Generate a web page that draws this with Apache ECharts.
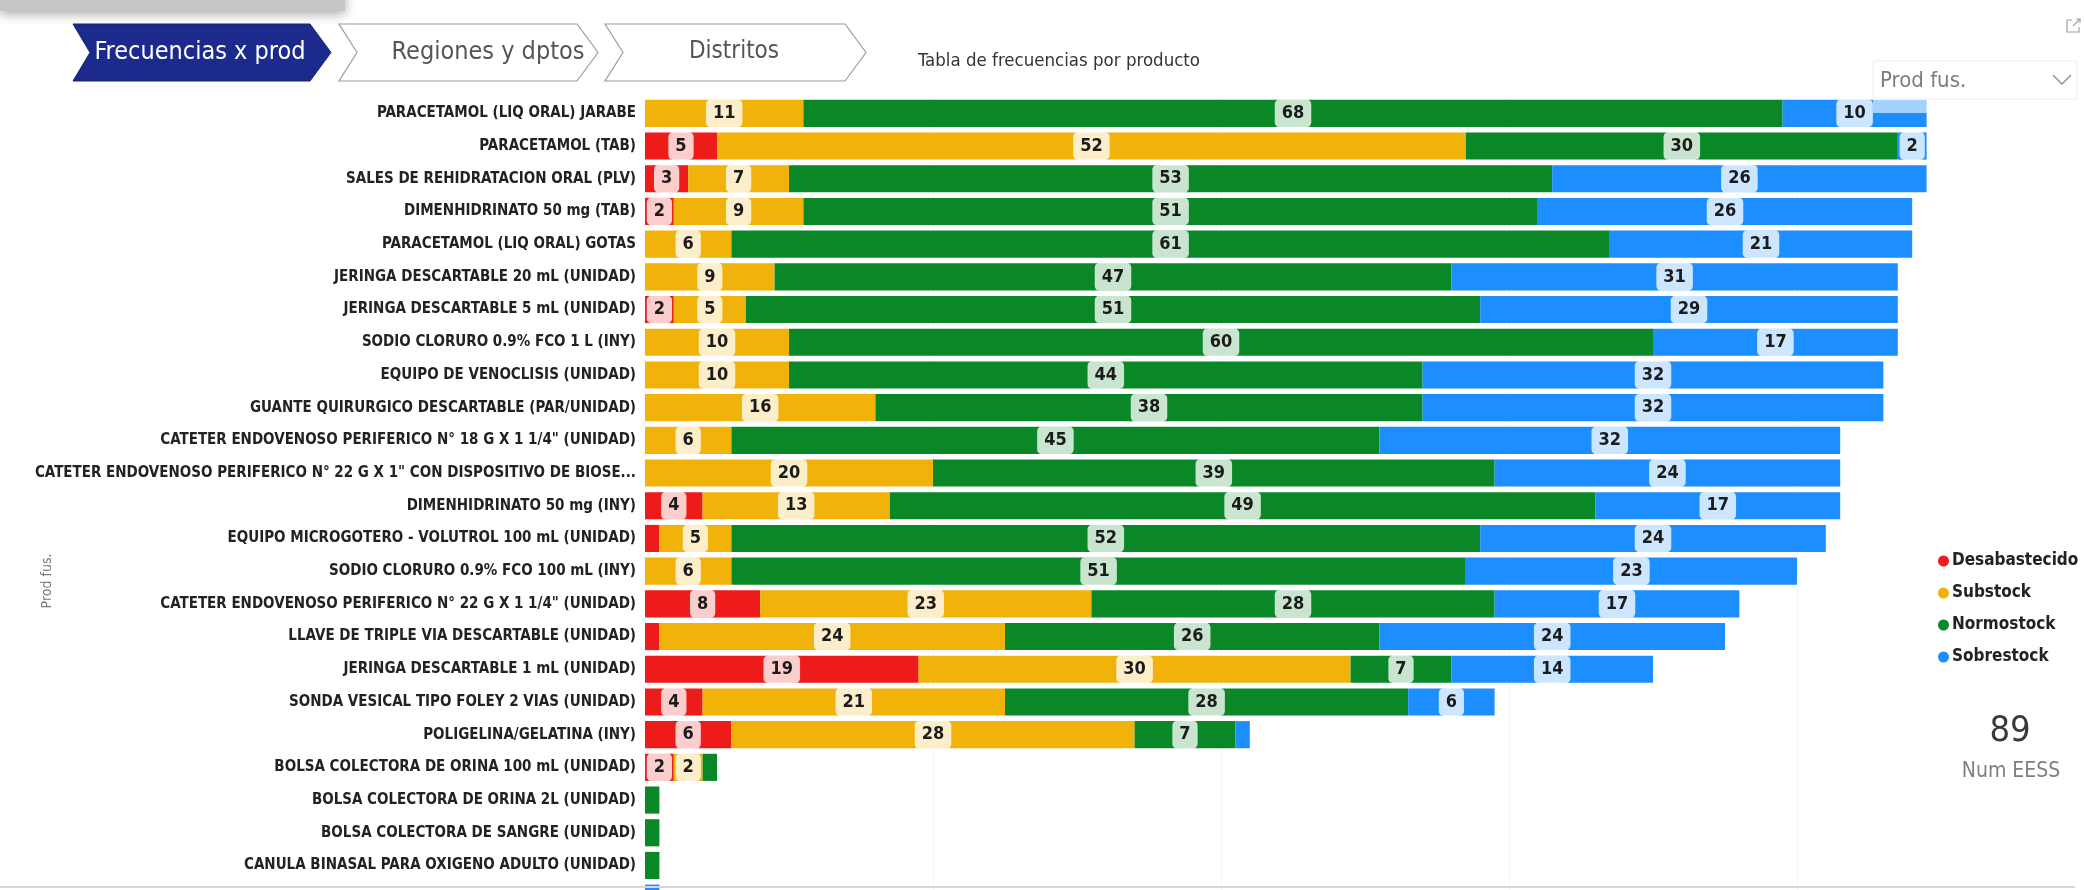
<!DOCTYPE html>
<html>
<head>
<meta charset="utf-8">
<script src="https://cdn.jsdelivr.net/npm/echarts@6/dist/echarts.min.js"></script>
<style>
  html, body { margin: 0; padding: 0; background: #ffffff; }
  #chart { width: 2084px; height: 890px; }
</style>
</head>
<body>
<div id="chart"></div>
<script>
// Product names, top to bottom (last row is cut off by the page edge)
const productos = [
  'PARACETAMOL (LIQ ORAL) JARABE',
  'PARACETAMOL (TAB)',
  'SALES DE REHIDRATACION ORAL (PLV)',
  'DIMENHIDRINATO 50 mg (TAB)',
  'PARACETAMOL (LIQ ORAL) GOTAS',
  'JERINGA DESCARTABLE 20 mL (UNIDAD)',
  'JERINGA DESCARTABLE 5 mL (UNIDAD)',
  'SODIO CLORURO 0.9% FCO 1 L (INY)',
  'EQUIPO DE VENOCLISIS (UNIDAD)',
  'GUANTE QUIRURGICO DESCARTABLE (PAR/UNIDAD)',
  'CATETER ENDOVENOSO PERIFERICO N° 18 G X 1 1/4" (UNIDAD)',
  'CATETER ENDOVENOSO PERIFERICO N° 22 G X 1" CON DISPOSITIVO DE BIOSE...',
  'DIMENHIDRINATO 50 mg (INY)',
  'EQUIPO MICROGOTERO - VOLUTROL 100 mL (UNIDAD)',
  'SODIO CLORURO 0.9% FCO 100 mL (INY)',
  'CATETER ENDOVENOSO PERIFERICO N° 22 G X 1 1/4" (UNIDAD)',
  'LLAVE DE TRIPLE VIA DESCARTABLE (UNIDAD)',
  'JERINGA DESCARTABLE 1 mL (UNIDAD)',
  'SONDA VESICAL TIPO FOLEY 2 VIAS (UNIDAD)',
  'POLIGELINA/GELATINA (INY)',
  'BOLSA COLECTORA DE ORINA 100 mL (UNIDAD)',
  'BOLSA COLECTORA DE ORINA 2L (UNIDAD)',
  'BOLSA COLECTORA DE SANGRE (UNIDAD)',
  'CANULA BINASAL PARA OXIGENO ADULTO (UNIDAD)',
  ''
];

// Number of health facilities per stock status
const desabastecido = [0, 5, 3, 2, 0, 0, 2, 0, 0, 0, 0, 0, 4, 1, 0, 8, 1, 19, 4, 6, 2, 0, 0, 0, 0];
const substock      = [11, 52, 7, 9, 6, 9, 5, 10, 10, 16, 6, 20, 13, 5, 6, 23, 24, 30, 21, 28, 2, 0, 0, 0, 0];
const normostock    = [68, 30, 53, 51, 61, 47, 51, 60, 44, 38, 45, 39, 49, 52, 51, 28, 26, 7, 28, 7, 1, 1, 1, 1, 0];
const sobrestock    = [10, 2, 26, 26, 21, 31, 29, 17, 32, 32, 32, 24, 17, 24, 23, 17, 24, 14, 6, 1, 0, 0, 0, 0, 1];

const estados = ['Desabastecido', 'Substock', 'Normostock', 'Sobrestock'];
const numEESS = 89;

const colores = ['#EE1B1B', '#F1B20A', '#0A8828', '#1D8EFF'];
const COND = '"DejaVu Sans Condensed", "Liberation Sans", sans-serif';

function serie(nombre, valores, color) {
  return {
    name: nombre,
    type: 'bar',
    stack: 'total',
    barCategoryGap: '17%',
    itemStyle: { color: color },
    data: valores.map(v => ({ value: v, label: { show: v >= 2 } })),
    label: {
      position: 'inside',
      color: '#1b1b1b',
      fontFamily: COND,
      fontWeight: 'bold',
      fontSize: 18,
      lineHeight: 18,
      backgroundColor: 'rgba(255,255,255,0.78)',
      borderRadius: 5,
      padding: [5, 7]
    },
    emphasis: { disabled: true }
  };
}

// Tab shapes (chevrons)
function chevron(x0, x1, y0, y1, notch, tip) {
  const ym = (y0 + y1) / 2;
  return [[x0, y0], [x1, y0], [x1 + tip, ym], [x1, y1], [x0, y1], [x0 + notch, ym]];
}

const chart = echarts.init(document.getElementById('chart'), null, { renderer: 'canvas' });

chart.setOption({
  backgroundColor: '#ffffff',
  animation: false,
  grid: {
    left: 645, top: 97, right: 157.4, height: 817.5,
    containLabel: false,
    outerBoundsMode: 'none'
  },
  xAxis: {
    type: 'value',
    min: 0,
    max: 89,
    interval: 20,
    axisLabel: { show: false },
    axisTick: { show: false },
    axisLine: { show: false },
    splitLine: {
      show: true,
      showMinLine: false,
      showMaxLine: false,
      lineStyle: { color: '#ececec', type: 'dotted', width: 1 }
    }
  },
  yAxis: {
    type: 'category',
    inverse: true,
    data: productos,
    axisTick: { show: false },
    axisLine: { show: false },
    axisLabel: {
      margin: 9,
      color: '#222222',
      fontFamily: COND,
      fontWeight: 'bold',
      fontSize: 15
    }
  },
  legend: {
    data: estados,
    orient: 'vertical',
    left: 1933,
    top: 546,
    icon: 'circle',
    itemWidth: 11,
    itemHeight: 11,
    itemGap: 12,
    selectedMode: false,
    textStyle: {
      color: '#222222',
      fontFamily: COND,
      fontWeight: 'bold',
      fontSize: 17,
      lineHeight: 20,
      padding: [0, 0, 0, -2]
    }
  },
  series: [
    serie(estados[0], desabastecido, colores[0]),
    serie(estados[1], substock, colores[1]),
    serie(estados[2], normostock, colores[2]),
    serie(estados[3], sobrestock, colores[3])
  ],
  graphic: [
    // faded header strip in the top-left corner
    {
      type: 'rect', z: 10,
      shape: { x: 0, y: -12, width: 345, height: 23 },
      style: { fill: '#c6c6c6', shadowBlur: 12, shadowColor: 'rgba(0,0,0,0.35)', shadowOffsetY: 3 }
    },
    // navigation tabs
    {
      type: 'polygon', z: 10,
      shape: { points: chevron(73, 310, 24, 81, 17, 21) },
      style: { fill: '#1C2A8D', stroke: '#16226f', lineWidth: 1 }
    },
    {
      type: 'text', z: 11, x: 200, y: 52,
      style: { text: 'Frecuencias x prod', fill: '#ffffff', fontFamily: COND, fontSize: 25, align: 'center', verticalAlign: 'middle' }
    },
    {
      type: 'polygon', z: 10,
      shape: { points: chevron(339, 577, 24, 81, 18, 21) },
      style: { fill: '#ffffff', stroke: '#9c9c9c', lineWidth: 1.2 }
    },
    {
      type: 'text', z: 11, x: 488, y: 52,
      style: { text: 'Regiones y dptos', fill: '#555555', fontFamily: COND, fontSize: 25, align: 'center', verticalAlign: 'middle' }
    },
    {
      type: 'polygon', z: 10,
      shape: { points: chevron(605, 845, 24, 81, 18, 21) },
      style: { fill: '#ffffff', stroke: '#9c9c9c', lineWidth: 1.2 }
    },
    {
      type: 'text', z: 11, x: 734, y: 52,
      style: { text: 'Distritos', fill: '#555555', fontFamily: COND, fontSize: 24, align: 'center', verticalAlign: 'middle' }
    },
    // visual title
    {
      type: 'text', z: 11, x: 918, y: 61,
      style: { text: 'Tabla de frecuencias por producto', fill: '#333333', fontFamily: COND, fontSize: 18.5, align: 'left', verticalAlign: 'middle' }
    },
    // y axis title
    {
      type: 'text', z: 11, x: 47, y: 581, rotation: Math.PI / 2,
      style: { text: 'Prod fus.', fill: '#7a7a7a', fontFamily: COND, fontSize: 14, align: 'center', verticalAlign: 'middle' }
    },
    // slicer dropdown
    {
      type: 'rect', z: 20,
      shape: { x: 1873, y: 61, width: 204, height: 38 },
      style: { fill: 'rgba(255,255,255,0.92)', stroke: '#ececec', lineWidth: 1 }
    },
    {
      type: 'rect', z: 20,
      shape: { x: 1873, y: 99, width: 56, height: 14 },
      style: { fill: 'rgba(255,255,255,0.6)' }
    },
    {
      type: 'text', z: 21, x: 1880, y: 81,
      style: { text: 'Prod fus.', fill: '#7c7c7c', fontFamily: COND, fontSize: 22, align: 'left', verticalAlign: 'middle' }
    },
    {
      type: 'polyline', z: 21,
      shape: { points: [[2053, 75], [2062, 84], [2071, 75]] },
      style: { stroke: '#8a8a8a', lineWidth: 1.3, fill: null }
    },
    // focus-mode icon
    {
      type: 'polyline', z: 21,
      shape: { points: [[2072, 20], [2067, 20], [2067, 32], [2079, 32], [2079, 27]] },
      style: { stroke: '#a0a0a0', lineWidth: 1.2, fill: null }
    },
    {
      type: 'polyline', z: 21,
      shape: { points: [[2073, 26], [2080, 19], [2076, 19], [2080, 19], [2080, 23]] },
      style: { stroke: '#a0a0a0', lineWidth: 1.2, fill: null }
    },
    // card: total facilities
    {
      type: 'text', z: 11, x: 2010, y: 732,
      style: { text: String(numEESS), fill: '#3a3a3a', fontFamily: COND, fontSize: 36, align: 'center', verticalAlign: 'middle' }
    },
    {
      type: 'text', z: 11, x: 2011, y: 772,
      style: { text: 'Num EESS', fill: '#7f7f7f', fontFamily: COND, fontSize: 21, align: 'center', verticalAlign: 'middle' }
    },
    // bottom border of the visual
    {
      type: 'line', z: 15,
      shape: { x1: 0, y1: 887, x2: 2075, y2: 887 },
      style: { stroke: '#d6d6d6', lineWidth: 2 }
    }
  ]
});
</script>
</body>
</html>
